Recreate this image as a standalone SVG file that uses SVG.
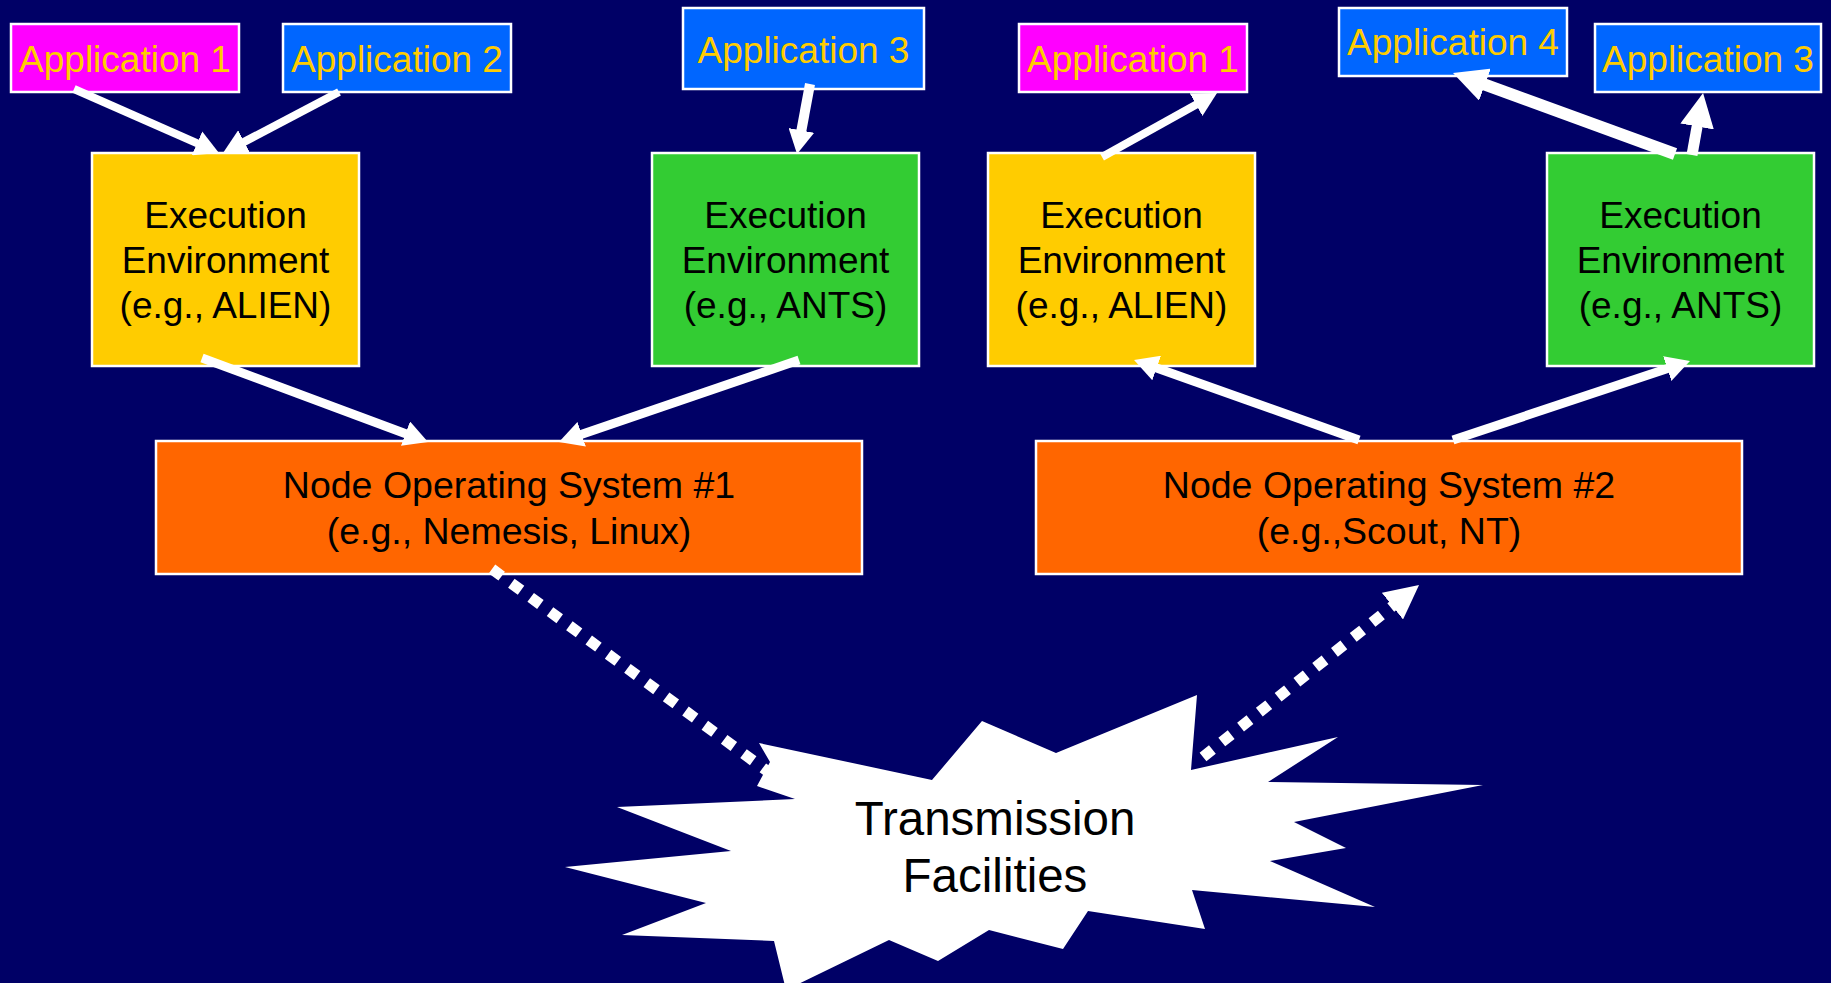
<svg xmlns="http://www.w3.org/2000/svg" width="1831" height="983" viewBox="0 0 1831 983">
  <defs>
    <style>
      .box { stroke: #ffffff; stroke-width: 2.5; }
      .app-pink { fill: #ff00ff; }
      .app-blue { fill: #0066ff; }
      .ee-yellow { fill: #ffcc00; }
      .ee-green { fill: #33cc33; }
      .nos { fill: #ff6600; }
      .app-text { font-family: "Liberation Sans", Arial, sans-serif; font-size: 37px; fill: #ffcc00; text-anchor: middle; }
      .body-text { font-family: "Liberation Sans", Arial, sans-serif; font-size: 37px; fill: #000000; text-anchor: middle; }
      .nos-text { font-family: "Liberation Sans", Arial, sans-serif; font-size: 37.5px; fill: #000000; text-anchor: middle; }
      .cloud-text { font-family: "Liberation Sans", Arial, sans-serif; font-size: 47.5px; fill: #000000; text-anchor: middle; }
      .link { stroke: #ffffff; fill: none; stroke-linecap: butt; }
      .dotted { stroke: #ffffff; fill: none; stroke-width: 11; stroke-dasharray: 12 12; }
    </style>
    <!-- small arrowhead: 24 long, 26 wide -->
    <marker id="head-a" markerUnits="userSpaceOnUse" markerWidth="24" markerHeight="26" refX="6" refY="13" orient="auto" viewBox="0 0 24 26">
      <path d="M0,0 L24,13 L0,26 z" fill="#ffffff"/>
    </marker>
    <!-- large arrowhead: 34 long, 34 wide -->
    <marker id="head-b" markerUnits="userSpaceOnUse" markerWidth="34" markerHeight="34" refX="8" refY="17" orient="auto" viewBox="0 0 34 34">
      <path d="M0,0 L34,17 L0,34 z" fill="#ffffff"/>
    </marker>
  </defs>

  <rect x="0" y="0" width="1831" height="983" fill="#000066"/>

  <!-- left node stack -->
  <g id="app1-left">
    <rect class="box app-pink" x="11" y="24" width="228" height="68"/>
    <text class="app-text" x="125" y="72">Application 1</text>
  </g>
  <g id="app2-left">
    <rect class="box app-blue" x="283" y="24" width="228" height="68"/>
    <text class="app-text" x="397" y="72">Application 2</text>
  </g>
  <g id="app3-left">
    <rect class="box app-blue" x="683" y="8" width="241" height="81"/>
    <text class="app-text" x="803.5" y="63">Application 3</text>
  </g>
  <g id="ee-alien-left">
    <rect class="box ee-yellow" x="92" y="153" width="267" height="213"/>
    <text class="body-text" x="225.5" y="228">Execution</text>
    <text class="body-text" x="225.5" y="273">Environment</text>
    <text class="body-text" x="225.5" y="318">(e.g., ALIEN)</text>
  </g>
  <g id="ee-ants-left">
    <rect class="box ee-green" x="652" y="153" width="267" height="213"/>
    <text class="body-text" x="785.5" y="228">Execution</text>
    <text class="body-text" x="785.5" y="273">Environment</text>
    <text class="body-text" x="785.5" y="318">(e.g., ANTS)</text>
  </g>
  <g id="nos1">
    <rect class="box nos" x="156" y="441" width="706" height="133"/>
    <text class="nos-text" x="509" y="498">Node Operating System #1</text>
    <text class="nos-text" x="509" y="544">(e.g., Nemesis, Linux)</text>
  </g>

  <!-- right node stack -->
  <g id="app1-right">
    <rect class="box app-pink" x="1019" y="24" width="228" height="68"/>
    <text class="app-text" x="1133" y="72">Application 1</text>
  </g>
  <g id="app4-right">
    <rect class="box app-blue" x="1339" y="8" width="228" height="68"/>
    <text class="app-text" x="1453" y="55">Application 4</text>
  </g>
  <g id="app3-right">
    <rect class="box app-blue" x="1595" y="24" width="226" height="68"/>
    <text class="app-text" x="1708" y="72">Application 3</text>
  </g>
  <g id="ee-alien-right">
    <rect class="box ee-yellow" x="988" y="153" width="267" height="213"/>
    <text class="body-text" x="1121.5" y="228">Execution</text>
    <text class="body-text" x="1121.5" y="273">Environment</text>
    <text class="body-text" x="1121.5" y="318">(e.g., ALIEN)</text>
  </g>
  <g id="ee-ants-right">
    <rect class="box ee-green" x="1547" y="153" width="267" height="213"/>
    <text class="body-text" x="1680.5" y="228">Execution</text>
    <text class="body-text" x="1680.5" y="273">Environment</text>
    <text class="body-text" x="1680.5" y="318">(e.g., ANTS)</text>
  </g>
  <g id="nos2">
    <rect class="box nos" x="1036" y="441" width="706" height="133"/>
    <text class="nos-text" x="1389" y="498">Node Operating System #2</text>
    <text class="nos-text" x="1389" y="544">(e.g.,Scout, NT)</text>
  </g>

  <!-- transmission cloud -->
  <g id="transmission">
    <polygon fill="#ffffff" points="759,743 932,780 982,721 1056,753 1197,695 1191,770 1338,737 1268,782 1483,785 1294,822 1346,848 1270,861 1375,907 1192,890 1205,929 1088,911 1063,949 989,930 938,961 889,940 786,990 774,941 622,935 706,903 565,867 731,851 617,807 795,799 757,786 770,762"/>
    <text class="cloud-text" x="995" y="835">Transmission</text>
    <text class="cloud-text" x="995" y="892">Facilities</text>
  </g>

  <!-- connectors -->
  <g id="connectors">
    <line class="link" stroke-width="8" x1="74" y1="89" x2="202.5" y2="145.7" marker-end="url(#head-a)"/>
    <line class="link" stroke-width="8" x1="339" y1="92" x2="238.9" y2="144.6" marker-end="url(#head-a)"/>
    <line class="link" stroke-width="10" x1="810" y1="84" x2="800.3" y2="136.3" marker-end="url(#head-a)"/>
    <line class="link" stroke-width="9" x1="202" y1="358" x2="411.1" y2="435.7" marker-end="url(#head-a)"/>
    <line class="link" stroke-width="9" x1="799" y1="360" x2="576" y2="436.2" marker-end="url(#head-a)"/>
    <line class="link" stroke-width="9" x1="1359" y1="440" x2="1151" y2="366" marker-end="url(#head-a)"/>
    <line class="link" stroke-width="9" x1="1453" y1="440" x2="1672.9" y2="366.7" marker-end="url(#head-a)"/>
    <line class="link" stroke-width="8" x1="1102" y1="157" x2="1201.3" y2="101.7" marker-end="url(#head-a)"/>
    <line class="link" stroke-width="12" x1="1675" y1="154" x2="1477.4" y2="81.9" marker-end="url(#head-b)"/>
    <line class="link" stroke-width="11" x1="1692" y1="155" x2="1698.5" y2="118.6" marker-end="url(#head-b)"/>
    <line class="dotted" x1="492" y1="569" x2="774" y2="776" marker-end="url(#head-b)"/>
    <line class="dotted" x1="1203" y1="757" x2="1398.7" y2="601.2" marker-end="url(#head-b)"/>
  </g>
</svg>
